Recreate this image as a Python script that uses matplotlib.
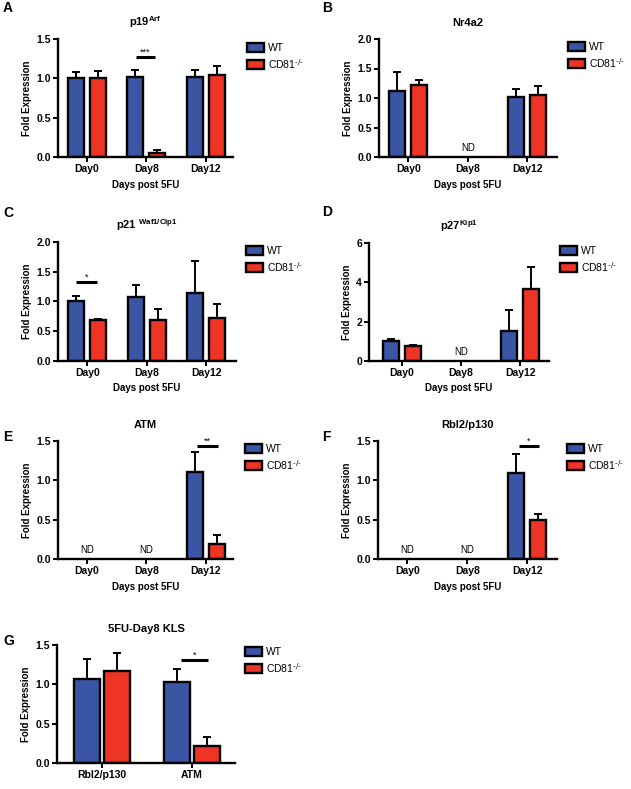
import numpy as np
import matplotlib
matplotlib.use("Agg")
import matplotlib.pyplot as plt
from matplotlib.patches import Rectangle

plt.rcParams['font.family'] = ['Liberation Sans', 'DejaVu Sans']
plt.rcParams['mathtext.default'] = 'regular'

# ---------------- data ----------------
days = ['Day0', 'Day8', 'Day12']
nd = np.nan

a_wt = [1.01, 1.02, 1.02]
a_wt_err = [0.07, 0.09, 0.08]
a_ko = [1.00, 0.055, 1.04]
a_ko_err = [0.09, 0.03, 0.12]

b_wt = [1.12, nd, 1.01]
b_wt_err = [0.32, nd, 0.14]
b_ko = [1.225, nd, 1.05]
b_ko_err = [0.08, nd, 0.15]

c_wt = [1.01, 1.07, 1.14]
c_wt_err = [0.08, 0.20, 0.54]
c_ko = [0.69, 0.69, 0.715]
c_ko_err = [0.015, 0.18, 0.24]

d_wt = [1.03, nd, 1.53]
d_wt_err = [0.11, nd, 1.08]
d_ko = [0.76, nd, 3.68]
d_ko_err = [0.05, nd, 1.08]

e_wt = [nd, nd, 1.10]
e_wt_err = [nd, nd, 0.26]
e_ko = [nd, nd, 0.19]
e_ko_err = [nd, nd, 0.11]

f_wt = [nd, nd, 1.09]
f_wt_err = [nd, nd, 0.24]
f_ko = [nd, nd, 0.49]
f_ko_err = [nd, nd, 0.08]

g_cats = ['Rbl2/p130', 'ATM']
g_wt = [1.07, 1.03]
g_wt_err = [0.25, 0.16]
g_ko = [1.17, 0.21]
g_ko_err = [0.23, 0.12]

series_labels = ['WT', 'CD81$^{\\text{-/-}}$']
titles = {'A': 'p19$^{Arf}$', 'B': 'Nr4a2', 'C': 'p21 $^{Waf1/Cip1}$',
          'D': 'p27$^{Kip1}$', 'E': 'ATM', 'F': 'Rbl2/p130', 'G': '5FU-Day8 KLS'}

BLUE = '#3a55a4'
RED = '#ee3424'

W, H = 631, 789
fig = plt.figure(figsize=(W / 100, H / 100), dpi=100)


def box(l, t, r, b):
    return [l / W, 1 - b / H, (r - l) / W, (b - t) / H]


def panel(letter, rect, xlim, cats, wt, wte, ko, koe, yticks, ylim, legxy,
          letter_xy, xlabel=True, sig=None, width=0.27, off=0.185, nd_idx=()):
    ax = fig.add_axes(box(*rect))
    x = np.arange(len(cats))
    wt = np.array(wt, float); ko = np.array(ko, float)
    wte = np.array(wte, float); koe = np.array(koe, float)
    for vals, errs, dx, col in [(wt, wte, -off, BLUE), (ko, koe, off, RED)]:
        ax.errorbar(x + dx, vals, yerr=[np.zeros_like(errs), errs], fmt='none',
                    ecolor='black', elinewidth=1.4, capsize=3, capthick=1.4, zorder=1)
        ax.bar(x + dx, vals, width, color=col, edgecolor='black', linewidth=1.7, zorder=2)
    for i in nd_idx:
        ax.text(x[i], 0.08, 'ND', transform=ax.get_xaxis_transform(),
                ha='center', va='center', fontsize=7)
    if sig is not None:
        i, yline, stars, l, r = sig
        ax.plot([x[i] + l, x[i] + r], [yline, yline], color='black', lw=2.2,
                solid_capstyle='butt', clip_on=False)
        ax.text(x[i] + (l + r) / 2, yline, stars, ha='center', va='bottom', fontsize=6.5)
    ax.set_xlim(*xlim)
    ax.set_ylim(*ylim)
    ax.set_xticks(x)
    ax.set_xticklabels(cats, fontsize=7.5, fontweight='bold')
    ax.set_yticks(yticks)
    if max(yticks) > 3:
        ax.set_yticklabels([f'{v:g}' for v in yticks], fontsize=7.5, fontweight='bold')
    else:
        ax.set_yticklabels([f'{v:.1f}' for v in yticks], fontsize=7.5, fontweight='bold')
    for s in ['top', 'right']:
        ax.spines[s].set_visible(False)
    for s in ['left', 'bottom']:
        ax.spines[s].set_linewidth(1.7)
    ax.tick_params(axis='both', direction='out', length=3.5, width=1.4, pad=1.5)
    ax.set_ylabel('Fold Expression', fontsize=7, fontweight='bold', labelpad=3)
    if xlabel:
        ax.set_xlabel('Days post 5FU', fontsize=7, fontweight='bold', labelpad=4)
    ax.set_title(titles[letter], fontsize=8, fontweight='bold', pad=9)
    handles = [Rectangle((0, 0), 1, 1, facecolor=BLUE, edgecolor='black', lw=1.7),
               Rectangle((0, 0), 1, 1, facecolor=RED, edgecolor='black', lw=1.7)]
    ax.legend(handles, series_labels, loc='upper left',
              bbox_to_anchor=(legxy[0] / W, 1 - (legxy[1] - 1) / H),
              bbox_transform=fig.transFigure, frameon=False, fontsize=7.5,
              handlelength=1.6, handleheight=0.95, handletextpad=0.45,
              labelspacing=0.35, borderpad=0, borderaxespad=0)
    fig.text(letter_xy[0] / W, 1 - letter_xy[1] / H, letter, fontsize=10,
             fontweight='bold', ha='left', va='center')
    return ax


panel('A', (58, 39, 233, 157), (-0.49, 2.46), days, a_wt, a_wt_err, a_ko, a_ko_err,
      [0, 0.5, 1.0, 1.5], (0, 1.5), (247, 44), (3, 8),
      sig=(1, 1.27, '***', -0.18, 0.15))
panel('B', (379, 39, 557, 157), (-0.49, 2.5), days, b_wt, b_wt_err, b_ko, b_ko_err,
      [0, 0.5, 1.0, 1.5, 2.0], (0, 2.0), (568, 43), (322, 8), nd_idx=(1,))
panel('C', (58, 242, 236, 361), (-0.49, 2.5), days, c_wt, c_wt_err, c_ko, c_ko_err,
      [0, 0.5, 1.0, 1.5, 2.0], (0, 2.0), (246, 247), (3, 213),
      sig=(0, 1.33, '*', -0.19, 0.16))
panel('D', (369, 243, 549, 361), (-0.56, 2.49), days, d_wt, d_wt_err, d_ko, d_ko_err,
      [0, 2, 4, 6], (0, 6), (560, 247), (322, 212), nd_idx=(1,))
panel('E', (58, 441, 233, 559), (-0.49, 2.46), days, e_wt, e_wt_err, e_ko, e_ko_err,
      [0, 0.5, 1.0, 1.5], (0, 1.5), (245, 445), (3, 437),
      sig=(2, 1.44, '**', -0.14, 0.2), nd_idx=(0, 1))
panel('F', (378, 441, 557, 559), (-0.49, 2.5), days, f_wt, f_wt_err, f_ko, f_ko_err,
      [0, 0.5, 1.0, 1.5], (0, 1.5), (567, 445), (322, 437),
      sig=(2, 1.44, '*', -0.14, 0.2), nd_idx=(0, 1))
panel('G', (57, 645, 235, 763), (-0.5, 1.48), g_cats, g_wt, g_wt_err, g_ko, g_ko_err,
      [0, 0.5, 1.0, 1.5], (0, 1.5), (245, 648), (3, 641), xlabel=False,
      sig=(1, 1.31, '*', -0.12, 0.18), width=0.29, off=0.167)

fig.savefig('out.png', dpi=100)
